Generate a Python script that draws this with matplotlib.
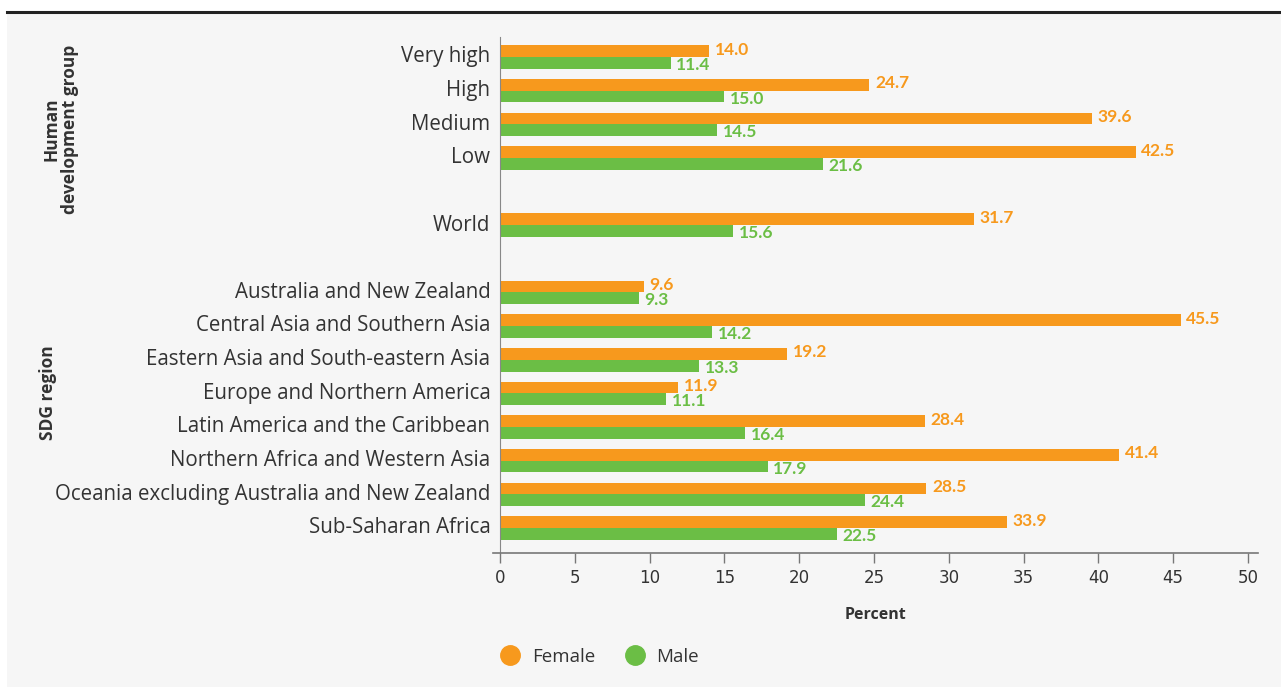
import matplotlib
matplotlib.use('Agg')
import matplotlib.pyplot as plt
from matplotlib.lines import Line2D
from matplotlib.patches import Rectangle

categories = ['Very high', 'High', 'Medium', 'Low', 'World',
              'Australia and New Zealand', 'Central Asia and Southern Asia',
              'Eastern Asia and South-eastern Asia', 'Europe and Northern America',
              'Latin America and the Caribbean', 'Northern Africa and Western Asia',
              'Oceania excluding Australia and New Zealand', 'Sub-Saharan Africa']
female = [14.0, 24.7, 39.6, 42.5, 31.7, 9.6, 45.5, 19.2, 11.9, 28.4, 41.4, 28.5, 33.9]
male = [11.4, 15.0, 14.5, 21.6, 15.6, 9.3, 14.2, 13.3, 11.1, 16.4, 17.9, 24.4, 22.5]
# row slots, leaving blank rows between the groups
slots = [0, 1, 2, 3, 5, 7, 8, 9, 10, 11, 12, 13, 14]
x_ticks = [0, 5, 10, 15, 20, 25, 30, 35, 40, 45, 50]

ORANGE = '#F7991D'
GREEN = '#6BBE45'
BG = '#F6F6F6'
TXT = '#333333'
W, H = 1281, 687

plt.rcParams['font.family'] = ['Open Sans', 'DejaVu Sans']

fig = plt.figure(figsize=(W / 100, H / 100), dpi=100, facecolor='white')
fig.patches.append(Rectangle((7 / W, 0), 1 - 7 / W, 1 - 12 / H, transform=fig.transFigure,
                             facecolor=BG, edgecolor='none', zorder=-5))
fig.lines.append(Line2D([7 / W, 1], [1 - 12 / H, 1 - 12 / H], transform=fig.transFigure,
                        color='#222222', lw=2.2, zorder=-4))

x0 = 492.5
ax = fig.add_axes([x0 / W, 1 - 552.7 / H, (1258 - x0) / W, (552.7 - 37) / H])
ax.set_facecolor('none')
ax.set_zorder(2)

bh = 0.35
yo = [s - bh / 2 for s in slots]
yg = [s + bh / 2 for s in slots]
ax.barh(yo, female, height=bh, color=ORANGE)
ax.barh(yg, male, height=bh, color=GREEN)

for y, v in zip(yo, female):
    ax.annotate(f'{v:.1f}', (v, y), xytext=(4, 1), textcoords='offset points',
                va='center', ha='left', color=ORANGE, fontsize=12.5, fontweight='bold',
                family=['Lato', 'DejaVu Sans'])
for y, v in zip(yg, male):
    ax.annotate(f'{v:.1f}', (v, y), xytext=(4, -1.5), textcoords='offset points',
                va='center', ha='left', color=GREEN, fontsize=12.5, fontweight='bold',
                family=['Lato', 'DejaVu Sans'])

ax.set_xlim(-0.5, 50.67)
ax.set_ylim(14.735, -0.595)
ax.tick_params(axis='y', length=0, pad=7, labelsize=14.8, labelcolor=TXT)
ax.tick_params(axis='x', length=7, width=1, color='#777777', pad=5, labelsize=12, labelcolor=TXT)
# label rows sit slightly above the bar-pair centre (ticks are hidden)
ax.set_yticks([s - 0.08 for s in slots])
ax.set_yticklabels(categories)
ax.set_xticks(x_ticks)
ax.set_xticklabels([str(t) for t in x_ticks], family=['Liberation Sans Narrow', 'DejaVu Sans'])

for s in ['top', 'right']:
    ax.spines[s].set_visible(False)
ax.spines['left'].set_position(('data', 0))
ax.spines['left'].set_color('#888888')
ax.spines['bottom'].set_color('#777777')
ax.spines['bottom'].set_linewidth(1.2)

ax.set_xlabel('Percent', fontsize=11.5, fontweight='bold', color=TXT, labelpad=14)

fig.text(61 / W, 1 - 129.5 / H, 'Human\ndevelopment group', rotation=90, ha='center',
         va='center', fontsize=12.5, fontweight='bold', color=TXT, linespacing=1.0)
fig.text(48 / W, 1 - 393 / H, 'SDG region', rotation=90, ha='center', va='center',
         fontsize=12.5, fontweight='bold', color=TXT)

handles = [Line2D([], [], marker='o', ls='none', color=ORANGE, markersize=14),
           Line2D([], [], marker='o', ls='none', color=GREEN, markersize=14)]
fig.legend(handles, ['Female', 'Male'], loc='center left',
           bbox_to_anchor=(500 / W, 1 - 657 / H), ncol=2, frameon=False,
           fontsize=13.5, handlelength=1.1, handletextpad=0.6, columnspacing=1.55,
           borderpad=0, borderaxespad=0, labelcolor=TXT)

fig.savefig('out.png', dpi=100, facecolor='white')
